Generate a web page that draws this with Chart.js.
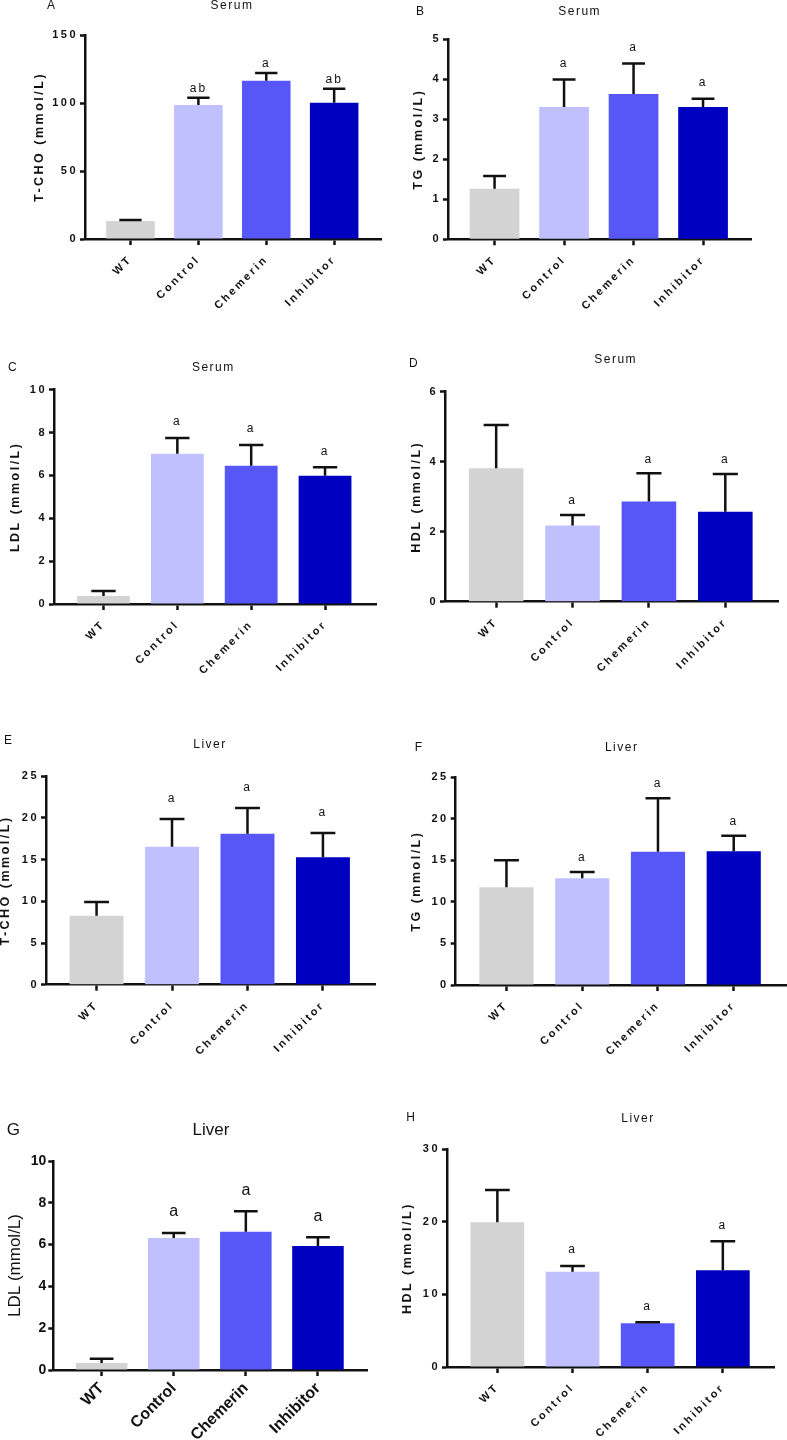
<!DOCTYPE html>
<html>
<head>
<meta charset="utf-8">
<script src="https://cdn.jsdelivr.net/npm/chart.js@4.4.1/dist/chart.umd.min.js"></script>
<style>
body { margin:0; background:#fff; width:787px; height:1440px; position:relative; overflow:hidden; font-family:'Liberation Sans', Arial, sans-serif; }
canvas { position:absolute; }
.lbl { position:absolute; white-space:nowrap; color:#111; line-height:1; }
</style>
</head>
<body>
<script>
const groups = ['WT', 'Control', 'Chemerin', 'Inhibitor'];
const barColors = ['#d3d3d3', '#c0c0ff', '#5757f8', '#0000c0'];

// serum
const serumTchoMean = [13.2, 98.5, 116.4, 100.2];
const serumTchoErr = [0.8, 5.4, 5.7, 10.3];
const serumTchoSig = ['', 'ab', 'a', 'ab'];

const serumTgMean = [1.26, 3.30, 3.63, 3.30];
const serumTgErr = [0.32, 0.69, 0.76, 0.21];

const serumLdlMean = [0.37, 7.01, 6.45, 5.99];
const serumLdlErr = [0.24, 0.74, 0.97, 0.39];

const serumHdlMean = [3.81, 2.18, 2.86, 2.57];
const serumHdlErr = [1.24, 0.30, 0.81, 1.08];

// liver
const liverTchoMean = [8.28, 16.56, 18.12, 15.29];
const liverTchoErr = [1.64, 3.32, 3.08, 2.91];

const liverTgMean = [11.76, 12.84, 16.05, 16.09];
const liverTgErr = [3.25, 0.76, 6.42, 1.88];

const liverLdlMean = [0.33, 6.32, 6.62, 5.93];
const liverLdlErr = [0.21, 0.24, 0.97, 0.42];

const liverHdlMean = [19.94, 13.14, 6.02, 13.33];
const liverHdlErr = [4.45, 0.78, 0.14, 4.0];

const sigA = ['', 'a', 'a', 'a'];

// layout of each panel (page pixels): box = canvas, area = L,R,T,B of the axes
const panels = [
  {letter:'A', title:'Serum', yTitle:'T-CHO (mmol/L)', mean:serumTchoMean, err:serumTchoErr, sig:serumTchoSig, yMax:150, yStep:50,
   box:[0,0,393,330], area:[85,381,35,239], yTitleX:39.5, letterPos:[47,5], titlePos:[232,5], gap:9},
  {letter:'B', title:'Serum', yTitle:'TG (mmol/L)', mean:serumTgMean, err:serumTgErr, sig:sigA, yMax:5, yStep:1,
   box:[393,0,394,330], area:[448,751,39,239.3], yTitleX:418.8, letterPos:[416,11], titlePos:[579.7,11], gap:16},
  {letter:'C', title:'Serum', yTitle:'LDL (mmol/L)', mean:serumLdlMean, err:serumLdlErr, sig:sigA, yMax:10, yStep:2,
   box:[0,330,393,370], area:[54,376,389.7,604], yTitleX:15.8, letterPos:[8,367], titlePos:[213.3,367], gap:16},
  {letter:'D', title:'Serum', yTitle:'HDL (mmol/L)', mean:serumHdlMean, err:serumHdlErr, sig:sigA, yMax:6, yStep:2,
   box:[393,330,394,370], area:[445,778,391.7,601.7], yTitleX:416.3, letterPos:[409,363], titlePos:[615.7,359.3], gap:14},
  {letter:'E', title:'Liver', yTitle:'T-CHO (mmol/L)', mean:liverTchoMean, err:liverTchoErr, sig:sigA, yMax:25, yStep:5,
   box:[0,700,393,360], area:[46,375,776.3,984.7], yTitleX:6, letterPos:[4,740], titlePos:[210,744.3], gap:20},
  {letter:'F', title:'Liver', yTitle:'TG (mmol/L)', mean:liverTgMean, err:liverTgErr, sig:sigA, yMax:25, yStep:5,
   box:[393,700,394,360], area:[455.7,786,777.3,985], yTitleX:416.3, letterPos:[414.7,746.7], titlePos:[621.7,746.7], gap:14.5},
  {letter:'G', title:'Liver', yTitle:'LDL (mmol/L)', mean:liverLdlMean, err:liverLdlErr, sig:sigA, yMax:10, yStep:2,
   box:[0,1060,393,380], area:[53.3,367.7,1161,1370], yTitleX:15.8, letterPos:[6.7,1129], titlePos:[211,1129], gap:21, plain:true},
  {letter:'H', title:'Liver', yTitle:'HDL (mmol/L)', mean:liverHdlMean, err:liverHdlErr, sig:sigA, yMax:30, yStep:10,
   box:[393,1060,394,380], area:[447,774.7,1149.3,1367], yTitleX:408, letterPos:[406.3,1116.7], titlePos:[638,1118.3], gap:16}
];

Chart.defaults.font.family = "'Liberation Sans', Arial, sans-serif";
Chart.defaults.color = '#111';

const errorBars = {
  id: 'errorBars',
  beforeDraw(chart, args, opts) {
    chart.ctx.letterSpacing = opts.spacing;
  },
  afterDatasetsDraw(chart, args, opts) {
    const ctx = chart.ctx;
    const yScale = chart.scales.y;
    const meta = chart.getDatasetMeta(0);
    ctx.save();
    ctx.strokeStyle = '#111';
    ctx.fillStyle = '#111';
    ctx.lineWidth = 2.5;
    meta.data.forEach((bar, i) => {
      const v = opts.mean[i];
      const y0 = yScale.getPixelForValue(v);
      const y1 = yScale.getPixelForValue(v + opts.err[i]);
      const half = bar.width * 0.23;
      ctx.beginPath();
      ctx.moveTo(bar.x, y0);
      ctx.lineTo(bar.x, y1);
      ctx.moveTo(bar.x - half, y1);
      ctx.lineTo(bar.x + half, y1);
      ctx.stroke();
      if (opts.sig[i]) {
        ctx.font = opts.sigFont;
        ctx.letterSpacing = opts.sigSpacing;
        ctx.textAlign = 'center';
        ctx.textBaseline = 'middle';
        ctx.fillText(opts.sig[i], bar.x, y1 - opts.gap);
      }
    });
    ctx.restore();
  }
};

function addText(txt, x, y, css, center) {
  const d = document.createElement('div');
  d.className = 'lbl';
  d.textContent = txt;
  d.style.cssText += css;
  d.style.left = x + 'px';
  d.style.top = y + 'px';
  d.style.transform = center ? 'translate(-50%,-50%)' : 'translateY(-50%)';
  document.body.appendChild(d);
}

panels.forEach(p => {
  const [cx, cy, cw, ch] = p.box;
  const [L, R, T, B] = p.area;
  const plain = !!p.plain;
  const yTitleSize = plain ? 17 : 12.5;
  const half = yTitleSize * 1.2 / 2;
  const padLeft = p.yTitleX - cx - half;
  const yWidth = L - cx - padLeft;
  const xHeight = cy + ch - B;

  const canvas = document.createElement('canvas');
  canvas.width = cw;
  canvas.height = ch;
  canvas.style.left = cx + 'px';
  canvas.style.top = cy + 'px';
  document.body.appendChild(canvas);

  const tickFont = plain ? {size:14, weight:'bold'} : {size:11, weight:'bold'};
  const catFont = plain ? {size:16, weight:'bold'} : {size:11, weight:'bold'};

  new Chart(canvas, {
    type: 'bar',
    data: {
      datasets: [{
        data: groups.map((g, i) => ({x: i, y: p.mean[i]})),
        backgroundColor: barColors,
        borderWidth: 0,
        barPercentage: 0.715,
        categoryPercentage: 1
      }]
    },
    options: {
      responsive: false,
      animation: false,
      events: [],
      layout: {padding: {left: padLeft, right: cx + cw - R, top: T - cy, bottom: 0}},
      plugins: {
        legend: {display: false},
        tooltip: {enabled: false},
        errorBars: {
          mean: p.mean, err: p.err, sig: p.sig, gap: p.gap,
          spacing: plain ? '0px' : '2.5px',
          sigSpacing: plain ? '0px' : '2px',
          sigFont: plain ? "16px 'Liberation Sans', Arial, sans-serif" : "12px 'Liberation Sans', Arial, sans-serif"
        }
      },
      scales: {
        x: {
          type: 'linear',
          min: -0.67,
          max: 3.69,
          offset: false,
          afterBuildTicks: s => { s.ticks = groups.map((g, i) => ({value: i})); },
          afterFit: s => { s.height = xHeight; },
          grid: {offset: false, drawOnChartArea: false, drawTicks: true, tickLength: 6, tickWidth: 2.5, tickColor: '#111'},
          border: {color: '#111', width: 2.5},
          ticks: {minRotation: 45, maxRotation: 45, autoSkip: false, padding: plain ? 3 : 8, color: '#111', font: catFont,
                  callback: v => groups[v]}
        },
        y: {
          min: 0,
          max: p.yMax,
          afterFit: s => { s.width = yWidth; },
          grid: {drawOnChartArea: false, drawTicks: true, tickLength: 5, tickWidth: 2.5, tickColor: '#111'},
          border: {color: '#111', width: 2.5},
          ticks: {stepSize: p.yStep, padding: 2, color: '#111', font: tickFont},
          title: {display: true, text: p.yTitle, padding: 0, color: '#111',
                  font: plain ? {size: yTitleSize, weight: 'normal'} : {size: yTitleSize, weight: 'bold'}}
        }
      }
    },
    plugins: [errorBars]
  });

  const titleCss = plain ? 'font-size:17px;' : 'font-size:12px;letter-spacing:1.5px;';
  addText(p.letter, p.letterPos[0], p.letterPos[1], plain ? 'font-size:17px;' : 'font-size:12px;', false);
  addText(p.title, p.titlePos[0], p.titlePos[1], titleCss, true);
});
</script>
</body>
</html>
